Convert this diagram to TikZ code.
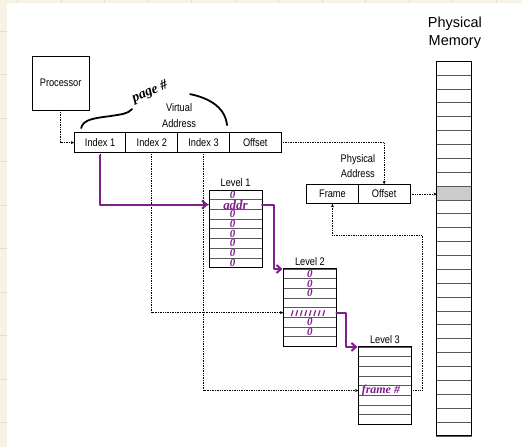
\documentclass[tikz,border=0pt]{standalone}
\usepackage{fontspec}
\setmainfont{Liberation Sans}
\newfontfamily\narrowsf{Liberation Sans}[FakeStretch=0.84]
\newfontfamily\handfont{Liberation Serif}
\usepackage{xcolor}
\usetikzlibrary{positioning, arrows.meta}
\definecolor{marker}{RGB}{128,30,140}
\definecolor{paper}{RGB}{246,243,230}
\definecolor{paperline}{RGB}{226,222,205}

\begin{document}
\begin{tikzpicture}[
    x=1pt, y=-1pt,
    box/.style={draw, line width=1pt, inner sep=0pt, outer sep=0pt, font=\narrowsf\fontsize{11}{14}\selectfont},
    cell/.style={box, minimum width=51.75pt, minimum height=19.5pt},
    row/.style={draw=black!65, line width=0.8pt, minimum width=53pt, minimum height=9.7pt, inner sep=0pt, outer sep=0pt},
    memrow/.style={row, minimum width=35pt, minimum height=13.89pt},
    lbl/.style={font=\narrowsf\fontsize{11}{16}\selectfont, align=center, inner sep=1pt},
    link/.style={densely dotted, line width=0.7pt, -{Stealth[length=3.5pt,width=3pt]}},
    pen/.style={marker, line width=2pt, line cap=round, line join=round},
    penarrow/.style={pen, -{Straight Barb[length=4.5pt,width=8pt]}},
    ink/.style={font=\handfont\itshape\bfseries\fontsize{11}{11}\selectfont, text=marker, inner sep=0pt}
]
% notebook paper
\fill[paper] (0,0) rectangle (522,447);
\foreach \x in {17.5,61,...,522} \draw[paperline] (\x,0) -- (\x,447);
\foreach \y in {31,74.5,...,447} \draw[paperline] (0,\y) -- (522,\y);
\fill[white] (7,3) rectangle (522,447);
\useasboundingbox (0,0) rectangle (522,447);

% processor and virtual address
\node[box, minimum width=57pt, minimum height=54pt] (proc) at (60.5,83) {Processor};
\node[cell] (idx1) at (100,142.5) {Index 1};
\node[cell, right=0pt of idx1] (idx2) {Index 2};
\node[cell, right=0pt of idx2] (idx3) {Index 3};
\node[cell, right=0pt of idx3] (voff) {Offset};
\node[lbl] (vlbl) at (179,115) {Virtual\\Address};

% physical address
\node[cell] (frame) at (332.5,194) {Frame};
\node[cell, right=0pt of frame] (poff) {Offset};
\node[lbl] (plbl) at (358,166) {Physical\\Address};

% physical memory
\node[font=\fontsize{14.5}{18}\selectfont, align=center] (mlbl) at (455,33) {Physical\\Memory};
\foreach \i in {1,...,27}
    \node[memrow] (mem-\i) at (454.5,{61+(\i-0.5)*13.89}) {};
\path[fill=black!20, draw=black!65, line width=0.8pt] (mem-10.north west) rectangle (mem-10.south east);
\draw[line width=1pt] (mem-1.north west) rectangle (mem-27.south east);

% page tables
\foreach \i in {1,...,8} {
    \node[row] (lone-\i) at (235.5,{190+(\i-0.5)*9.7}) {};
    \node[row] (ltwo-\i) at (310,{269+(\i-0.5)*9.7}) {};
    \node[row] (lthree-\i) at (385,{347+(\i-0.5)*9.7}) {};
}
\draw[line width=1pt] (lone-1.north west) rectangle (lone-8.south east);
\draw[line width=1pt] (ltwo-1.north west) rectangle (ltwo-8.south east);
\draw[line width=1pt] (lthree-1.north west) rectangle (lthree-8.south east);
\node[lbl, above=2.5pt of lone-1] {Level 1};
\node[lbl, above=2.5pt of ltwo-1] {Level 2};
\node[lbl, above=2.5pt of lthree-1] {Level 3};

% dotted connectors
\draw[link] (proc) |- (idx1);
\draw[link] (voff) -- (voff -| poff) -- (poff);
\draw[link] (poff.east) -- (poff.east -| mem-10.west);
\draw[link] (idx1) |- (lone-2);
\draw[link] (idx2) |- (ltwo-5);
\draw[link] (idx3) |- (lthree-5);
\coordinate (turn) at (422,235);
\draw[link] (lthree-5) -| (turn) -| (frame);

% handwritten notes
\draw[black, line width=1.8pt, line cap=round] (81,128) .. controls (83,119) and (95,118) .. (110,116) .. controls (122,114) and (127,114) .. (132,109);
\draw[black, line width=1.8pt, line cap=round] (190,94) .. controls (205,97) and (225,105) .. (227,125);
\node[ink, text=black, font=\handfont\itshape\bfseries\fontsize{14}{14}\selectfont, rotate=24] (pagenote) at (150,92) {page \#};

\draw[penarrow] ([yshift=-3pt]idx1.south) |- ([xshift=-1pt]lone-2.west);
\draw[penarrow] (lone-2.east) -- ++(12,0) |- ([xshift=-1pt]ltwo-1.north west);
\draw[penarrow] (ltwo-5.east) -- ++(10,0) |- ([xshift=-1pt]lthree-1.north west);

\node[ink, font=\handfont\itshape\bfseries\fontsize{13}{13}\selectfont] at (lone-2) {addr};
\foreach \i in {1,3,4,5,6,7,8} \node[ink] at ([xshift=-3pt]lone-\i) {0};
\foreach \i in {1,2,3,6,7} \node[ink] at (ltwo-\i) {0};
\foreach \k in {0,...,7}
    \draw[pen, line width=1.2pt] ([xshift=\k*4.5pt+8pt, yshift=-3pt]ltwo-5.west) -- ++(1.5,-5);
\node[ink, font=\handfont\itshape\bfseries\fontsize{12}{12}\selectfont] at ([xshift=-4pt]lthree-5) {frame \#};
\end{tikzpicture}
\end{document}
